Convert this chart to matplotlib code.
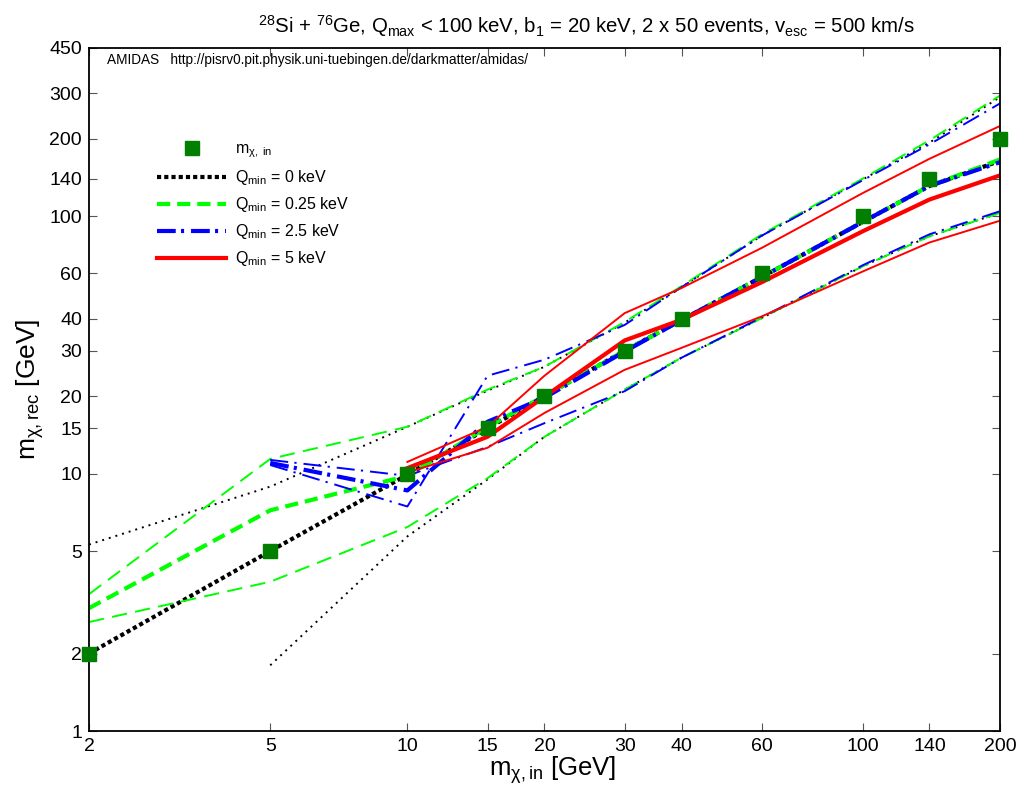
import matplotlib
matplotlib.use("Agg")
import matplotlib.pyplot as plt
from matplotlib.ticker import FixedLocator, NullLocator, FixedFormatter

plt.rcParams['font.family'] = ['Liberation Sans', 'DejaVu Sans']
plt.rcParams['mathtext.fontset'] = 'custom'
plt.rcParams['mathtext.rm'] = 'Liberation Sans'
plt.rcParams['mathtext.it'] = 'Liberation Sans'
plt.rcParams['lines.scale_dashes'] = False

# input masses (GeV)
m_in = [2, 5, 10, 15, 20, 30, 40, 60, 100, 140, 200]

# Qmin = 0 keV (black)
x_q0 = [2, 5, 10, 15, 20, 30, 40, 60, 100, 140, 200]
med_q0 = [2.0, 5.0, 9.9, 15.0, 20.0, 30.0, 39.5, 58, 95, 131, 164]
up_q0 = [5.3, 8.9, 15.2, 21.0, 26.0, 38.6, 53, 84, 139, 193, 290]
x_q0_lo = [5, 10, 15, 20, 30, 40, 60, 100, 140, 200]
lo_q0 = [1.8, 5.7, 9.5, 13.9, 21.2, 28.2, 40.2, 63.9, 83.5, 103]

# Qmin = 0.25 keV (green)
x_q025 = [2, 5, 10, 15, 20, 30, 40, 60, 100, 140, 200]
med_q025 = [3.0, 7.2, 9.8, 15.2, 20.0, 30.0, 39.5, 58, 95, 131, 166]
up_q025 = [3.4, 11.4, 15.2, 21.2, 26.0, 38.8, 53.5, 85, 140, 197, 294]
lo_q025 = [2.65, 3.8, 6.2, 9.6, 13.9, 21.2, 28.2, 40.2, 63.9, 83.5, 103]

# Qmin = 2.5 keV (blue)
x_q25 = [5, 10, 15, 20, 30, 40, 60, 100, 140, 200]
med_q25 = [11.0, 8.6, 15.9, 19.7, 29.8, 39.5, 58, 95, 131, 162]
up_q25 = [10.8, 7.45, 24.0, 27.7, 37.8, 53, 84, 138, 190, 274]
lo_q25 = [11.3, 9.8, 12.7, 15.7, 20.9, 28.2, 40.5, 64.5, 85, 104.5]

# Qmin = 5 keV (red)
x_q5 = [10, 15, 20, 30, 40, 60, 100, 140, 200]
med_q5 = [10.5, 13.9, 19.9, 32.9, 39.6, 55.4, 87.4, 116, 144]
up_q5 = [11.1, 15.2, 24.0, 42.0, 52.6, 75.3, 123, 167, 224]
lo_q5 = [10.1, 12.6, 17.2, 25.3, 30.8, 40.8, 61, 79, 96]

x_ticks = [2, 5, 10, 15, 20, 30, 40, 60, 100, 140, 200]
y_ticks = [1, 2, 5, 10, 15, 20, 30, 40, 60, 100, 140, 200, 300, 450]

fig = plt.figure(figsize=(10.25, 7.92), dpi=100)
ax = fig.add_axes([0.0868, 0.077, 0.8888, 0.8624])

thick = 3.0
thin = 1.4
# (thick pattern, thin pattern), lengths in points
styles = [
    ('black', (0, (3.0, 2.2)), (0, (1.4, 3.6)), x_q0, med_q0, x_q0, up_q0, x_q0_lo, lo_q0,
     r'Q$_{\rm min}$ = 0 keV'),
    ('#00ff00', (0, (9.5, 5)), (0, (11, 6)), x_q025, med_q025, x_q025, up_q025, x_q025, lo_q025,
     r'Q$_{\rm min}$ = 0.25 keV'),
    ('#0000ff', (0, (13.5, 3.8, 2.2, 5)), (0, (13, 4.5, 1.6, 5)), x_q25, med_q25, x_q25, up_q25,
     x_q25, lo_q25, r'Q$_{\rm min}$ = 2.5 keV'),
    ('#ff0000', '-', '-', x_q5, med_q5, x_q5, up_q5, x_q5, lo_q5, r'Q$_{\rm min}$ = 5 keV'),
]

handles = []
sq, = ax.plot(m_in, m_in, 's', color='#007f00', markersize=10, clip_on=False,
              zorder=5, label=r'm$_{\chi,\ \rm in}$')
handles.append(sq)
for col, ls_k, ls_n, xm, ym, xu, yu, xl, yl, lab in styles:
    h, = ax.plot(xm, ym, color=col, linestyle=ls_k, linewidth=thick, label=lab,
                 dash_capstyle='butt')
    ax.plot(xu, yu, color=col, linestyle=ls_n, linewidth=thin, dash_capstyle='butt')
    ax.plot(xl, yl, color=col, linestyle=ls_n, linewidth=thin, dash_capstyle='butt')
    handles.append(h)

ax.set_xscale('log')
ax.set_yscale('log')
ax.set_xlim(2, 200)
ax.set_ylim(1, 450)

ax.xaxis.set_major_locator(FixedLocator(x_ticks))
ax.xaxis.set_major_formatter(FixedFormatter([str(v) for v in x_ticks]))
ax.xaxis.set_minor_locator(NullLocator())
ax.yaxis.set_major_locator(FixedLocator(y_ticks))
ax.yaxis.set_major_formatter(FixedFormatter([str(v) for v in y_ticks]))
ax.yaxis.set_minor_locator(NullLocator())
ax.tick_params(which='major', direction='in', length=6, width=0.8, color='#555555',
               top=True, right=True, labelsize=14, pad=5)
for s in ax.spines.values():
    s.set_linewidth(1.3)

ax.set_xlabel(r'm$_{\chi,\rm in}$ [GeV]', fontsize=18.5)
ax.xaxis.set_label_coords(0.509, -0.034)
ax.set_ylabel(r'm$_{\chi,\rm rec}$ [GeV]', fontsize=19, labelpad=2)
fig.text(586 / 1025, 1 - 26 / 792,
         r'$^{28}$Si + $^{76}$Ge, Q$_{\rm max}$ < 100 keV, b$_1$ = 20 keV, '
         r'2 x 50 events, v$_{\rm esc}$ = 500 km/s', fontsize=14.7, ha='center', va='center')

ax.text(0.02, 0.982, 'AMIDAS   http://pisrv0.pit.physik.uni-tuebingen.de/darkmatter/amidas/',
        transform=ax.transAxes, fontsize=9.8, va='center', ha='left')

ax.legend(handles=handles, loc='upper left', bbox_to_anchor=(0.075, 0.863),
          frameon=False, fontsize=11.5, handlelength=4.3, handletextpad=0.55,
          labelspacing=0.5, borderpad=0, borderaxespad=0)

fig.savefig('out.png', dpi=100)
